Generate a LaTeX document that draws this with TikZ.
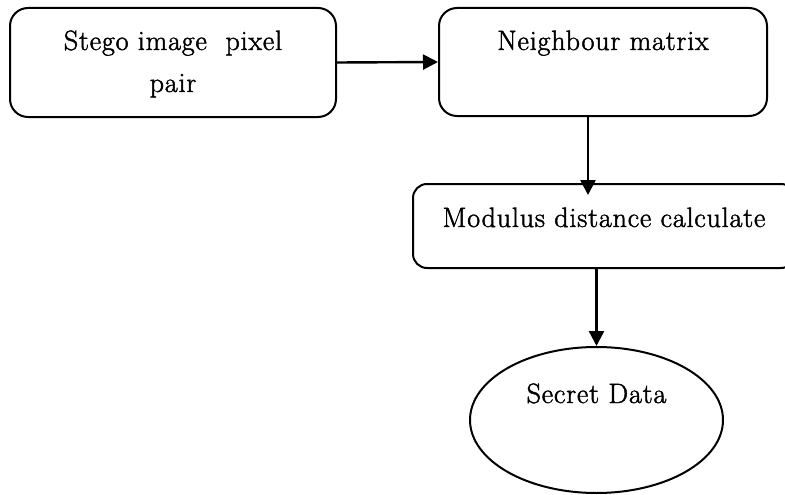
\documentclass[tikz,border=0pt]{standalone}
\usepackage{fontspec}
\newfontfamily\boxfont{Latin Modern Roman}[FakeBold=1.6, LetterSpace=3]
\usetikzlibrary{arrows.meta,shapes.geometric}
\begin{document}
\begin{tikzpicture}[x=1pt,y=-1pt,
  box/.style={draw, line width=2pt, inner sep=0pt},
  lbl/.style={font=\boxfont\fontsize{28}{42}\selectfont, align=center, inner sep=0pt},
  arr/.style={line width=2.4pt, -{Triangle[length=15pt,width=15pt]}}]
\useasboundingbox (0,0) rectangle (785,495);
\clip (0,0) rectangle (785,495);

% process boxes
\node[box, rounded corners=18pt, minimum width=326pt, minimum height=109pt] (stego) at (173,62.5) {};
\node[box, rounded corners=18pt, minimum width=328pt, minimum height=108pt] (neigh) at (603,62) {};
\node[box, rounded corners=14pt, minimum width=382pt, minimum height=84pt] (calc) at (604,226) {};
\node[box, ellipse, minimum width=253pt, minimum height=146pt] (secret) at (596.5,420) {};

% labels (base anchor sits on the last line)
\node[lbl, anchor=base] (stegotxt) at (173,92) {Stego image\ \ pixel\\pair};
\node[lbl, anchor=base] (neightxt) at (603,50) {Neighbour matrix};
\node[lbl, anchor=base] (calctxt) at (604,227) {Modulus distance calculate};
\node[lbl, anchor=base] (secrettxt) at (596.5,403) {Secret Data};

% connectors
\coordinate (tip2) at (588,195);
\draw[arr] (stego.east) -- (neigh.west);
\draw[arr] (neigh.south -| tip2) -- (tip2);
\draw[arr] (calc.south -| secret.north) -- (secret.north);
\end{tikzpicture}
\end{document}
